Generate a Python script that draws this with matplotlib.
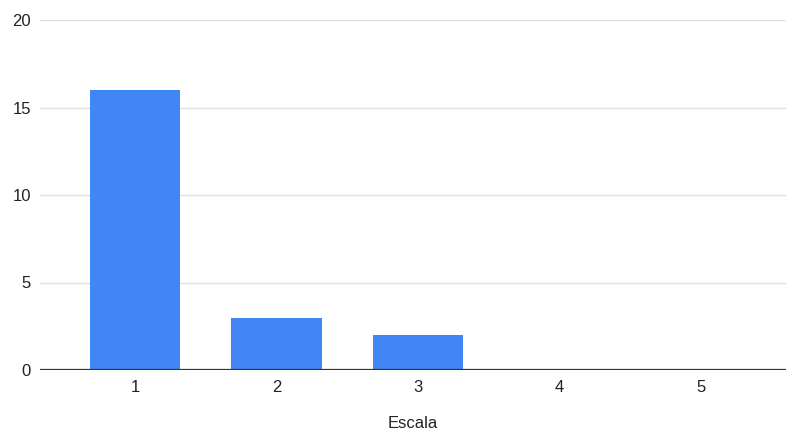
import matplotlib.pyplot as plt

# responses per scale value
escala = ["1", "2", "3", "4", "5"]
respuestas = [16, 3, 2, 0, 0]
y_ticks = [0, 5, 10, 15, 20]

plt.rcParams["font.family"] = ["Liberation Sans", "DejaVu Sans"]

fig = plt.figure(figsize=(7.86, 4.34), dpi=100)
ax = fig.add_axes([40 / 786, 64 / 434, 746 / 786, 350 / 434])

x = list(range(len(escala)))
ax.bar(x, respuestas, width=0.636, color="#4285F4", zorder=3)

ax.set_xlim(-0.671, 4.6)
ax.set_ylim(0, 20)
ax.set_yticks(y_ticks)
ax.set_xticks(x)
ax.set_xticklabels(escala)

ax.grid(True, axis="y", color="#e0e0e0", linewidth=1, zorder=0)
ax.axhline(0, color="#333333", linewidth=1.6, zorder=4)

for side in ["top", "right", "left", "bottom"]:
    ax.spines[side].set_visible(False)

ax.tick_params(axis="both", length=0, labelsize=12, colors="#222222")
ax.tick_params(axis="y", pad=6.5)
ax.tick_params(axis="x", pad=7.5)

ax.set_xlabel("Escala", fontsize=12, color="#222222", labelpad=15)

fig.savefig("out.png", dpi=100)
